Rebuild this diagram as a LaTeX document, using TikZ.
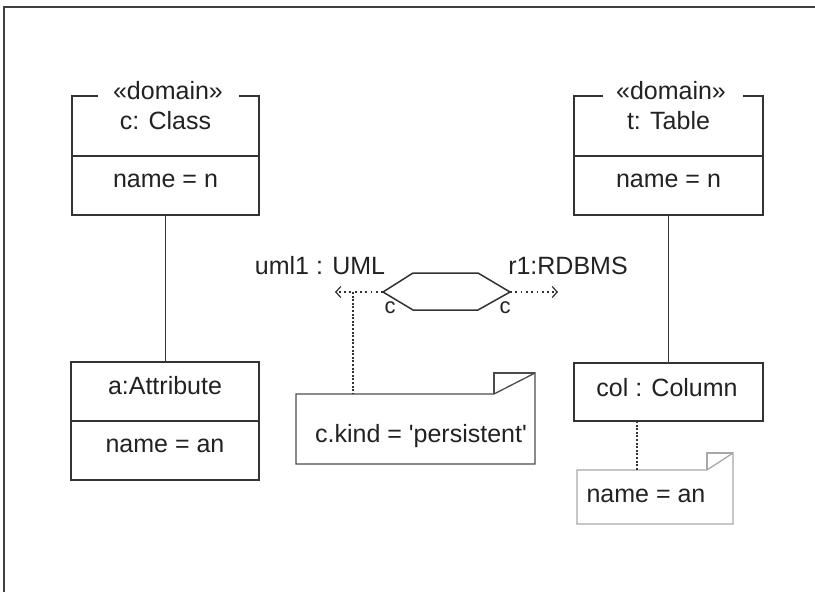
\documentclass[tikz,border=0pt]{standalone}
\usepackage{fontspec}
\setmainfont{Liberation Sans}
\usetikzlibrary{arrows.meta}
\definecolor{ink}{HTML}{222222}
\definecolor{edge}{HTML}{333333}
\definecolor{lightedge}{HTML}{A8A8A8}
\begin{document}
\begin{tikzpicture}[x=1pt,y=-1pt,
  boxline/.style={draw=edge,line width=1.5pt},
  frameline/.style={draw=black!75,line width=2pt},
  txt/.style={text=ink,font=\fontsize{25}{28}\selectfont,inner sep=0pt},
  small/.style={text=ink,font=\fontsize{22}{24}\selectfont,inner sep=0pt},
  area/.style={draw=none,inner sep=0pt,outer sep=0pt},
  dotline/.style={draw=edge,line width=1.4pt,dash pattern=on 2pt off 1.6pt},
  dotarrow/.style={draw=edge,line width=1.2pt,dash pattern=on 1.8pt off 3.5pt,
     -{Straight Barb[length=5pt,width=11pt,line width=1.2pt]}}]
\useasboundingbox (0,0) rectangle (815,592);
\fill[white] (0,0) rectangle (815,592);
% frame
\coordinate (fbl) at (4,592);
\coordinate (ftl) at (4,7);
\coordinate (ftr) at (815,7);
\draw[frameline] (fbl) -- (ftl) -- (ftr);

% class c: Class
\node[area,minimum width=187,minimum height=119] (cC) at (165.5,155.5) {};
\draw[boxline] ([xshift=26]cC.north west) -- (cC.north west) -- (cC.south west)
  -- (cC.south east) -- (cC.north east) -- ([xshift=-20]cC.north east);
\draw[boxline] (72,156) -- (259,156);
\node[txt] (cCst) at (168,91) {«domain»};
\node[txt] (cCnm) at (165.5,121) {c: Class};
\node[txt] (cCat) at (165.5,181) {name = n};

% class t: Table
\node[area,minimum width=189,minimum height=119] (tT) at (668.5,155.5) {};
\draw[boxline] ([xshift=29]tT.north west) -- (tT.north west) -- (tT.south west)
  -- (tT.south east) -- (tT.north east) -- ([xshift=-20]tT.north east);
\draw[boxline] (574,156) -- (763,156);
\node[txt] (tTst) at (671,91) {«domain»};
\node[txt] (tTnm) at (668.5,121) {t: Table};
\node[txt] (tTat) at (668.5,181) {name = n};

% a:Attribute
\node[area,minimum width=188,minimum height=118] (aA) at (165,421) {};
\draw[boxline] (aA.north west) rectangle (aA.south east);
\draw[boxline] (71,421) -- (259,421);
\node[txt] (aAnm) at (165,386) {a:Attribute};
\node[txt] (aAat) at (165,446) {name = an};

% col : Column
\node[area,minimum width=189,minimum height=58] (colC) at (668.5,392) {};
\draw[boxline] (colC.north west) rectangle (colC.south east);
\node[txt] (colnm) at (667,388) {col : Column};

% associations
\draw[boxline] (cC.south) -- (cC.south |- aA.north);
\draw[boxline] (tT.south) -- (tT.south |- colC.north);

% hexagon (transformation)
\coordinate (hl) at (383,292);
\coordinate (hr) at (510,292);
\draw[boxline,line join=miter] (hl) -- (413,273) -- (478,273) -- (hr) -- (478,310) -- (413,310) -- cycle;
\node[small] (cl) at (390,308) {c};
\node[small] (cr) at (505,308) {c};
\coordinate (umlend) at (335,292);
\coordinate (rdbend) at (558,292);
\draw[dotarrow] (hl) -- (umlend);
\draw[dotarrow] (hr) -- (rdbend);
\node[txt] (uml) at (320,266) {uml1 : UML};
\node[txt] (rdb) at (568,266) {r1:RDBMS};

% note 1
\node[area,minimum width=239,minimum height=70] (n1) at (415.5,429) {};
\draw[draw=black!70,line width=1.3pt,line join=miter] (n1.south west) -- (n1.north west) -- ([xshift=-41]n1.north east)
  -- ([yshift=21]n1.north east) -- (n1.south east) -- cycle;
\draw[draw=black!70,line width=1.3pt] ([xshift=-41]n1.north east) -- ([xshift=-41,yshift=21]n1.north east) -- ([yshift=21]n1.north east);
\node[txt] (n1t) at (421,436) {c.kind = \textquotesingle persistent\textquotesingle};
\coordinate (n1src) at (353,292);
\draw[dotline] (n1src) -- (n1src |- n1.north);

% note 2
\node[area,minimum width=156,minimum height=54] (n2) at (655,497) {};
\draw[draw=lightedge,line width=1.3pt,line join=miter] (n2.south west) -- (n2.north west) -- ([xshift=-26]n2.north east)
  -- ([yshift=17]n2.north east) -- (n2.south east) -- cycle;
\draw[draw=lightedge,line width=1.3pt] ([xshift=-26]n2.north east) -- ([xshift=-26,yshift=17]n2.north east) -- ([yshift=17]n2.north east);
\node[txt] (n2t) at (646,496) {name = an};
\draw[dotline] (colC.south -| 637,0) -- (n2.north -| 637,0);
\end{tikzpicture}
\end{document}
